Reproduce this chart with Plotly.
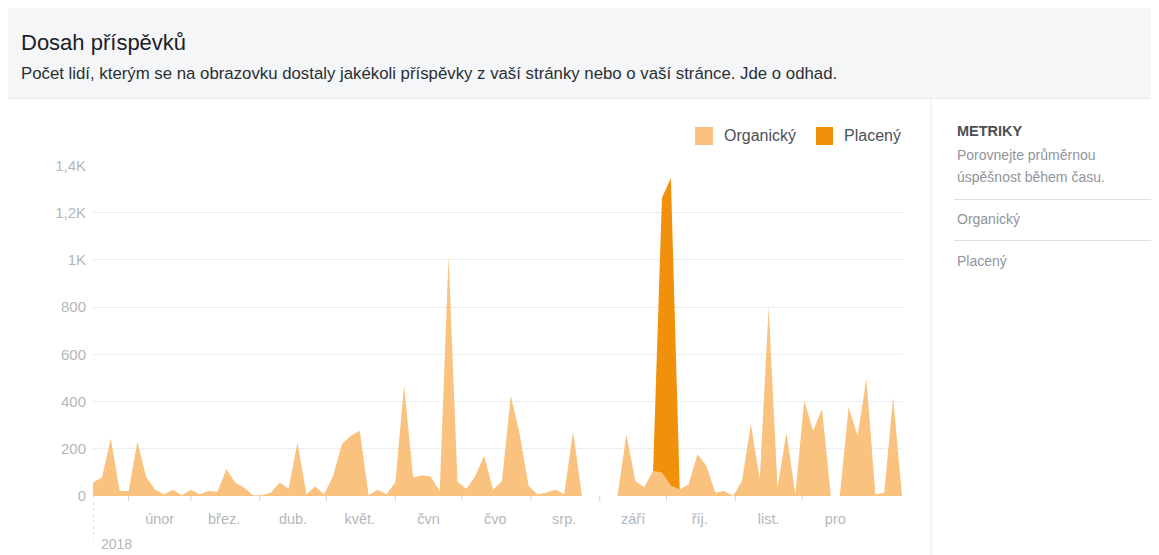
import pandas as pd
import plotly.graph_objects as go

# ---------------- data ----------------
start_date = "2018-01-16"
n_points = 92
dates = pd.date_range(start=start_date, periods=n_points, freq="4D")

organic = [57, 78, 244, 21, 21, 230, 78, 26, 7, 26,
           3, 26, 7, 21, 18, 113, 57, 35, 3, 3,
           14, 57, 31, 227, 7, 40, 7, 85, 220, 255,
           276, 3, 26, 7, 57, 468, 78, 88, 82, 21,
           1014, 60, 31, 85, 170, 26, 64, 425, 262, 42,
           7, 14, 28, 7, 274, 0, 0, 0, 0, 0,
           262, 64, 38, 106, 99, 42, 28, 50, 177, 128,
           14, 21, 0, 64, 305, 71, 801, 35, 269, 7,
           404, 276, 369, 0, 0, 376, 255, 496, 7, 14,
           418, 0]
paid = [0] * 63 + [0, 1163, 1305, 0] + [0] * 25

month_label_dates = ["2018-02-15", "2018-03-16", "2018-04-16", "2018-05-16",
                     "2018-06-16", "2018-07-16", "2018-08-16", "2018-09-16",
                     "2018-10-16", "2018-11-16", "2018-12-16"]
month_labels = ["únor", "břez.", "dub.", "květ.", "čvn", "čvo", "srp.",
                "září", "říj.", "list.", "pro"]
month_start_dates = ["2018-02-01", "2018-03-01", "2018-04-01", "2018-05-01",
                     "2018-06-01", "2018-07-01", "2018-08-01", "2018-09-01",
                     "2018-10-01", "2018-11-01", "2018-12-01"]
y_tick_vals = [0, 200, 400, 600, 800, 1000, 1200, 1400]
y_tick_text = ["0", "200", "400", "600", "800", "1K", "1,2K", "1,4K"]

series_names = ["Organický", "Placený"]
title_text = "Dosah příspěvků"
subtitle_text = ("Počet lidí, kterým se na obrazovku dostaly jakékoli příspěvky "
                 "z vaší stránky nebo o vaší stránce. Jde o odhad.")

# ---------------- style ----------------
C_ORG = "#f9c27f"
C_PAID = "#f1900b"
FONT = "Liberation Sans, Arial, Helvetica, sans-serif"
GRAY_TICK = "#b4b7bc"

PAGE_OFF = 8                      # default body margin of the html page
W_FIG, H_FIG = 1159 - PAGE_OFF, 555 - PAGE_OFF
# plot area in page pixel coordinates
L, R, T, B = 93, 902, 165, 496
PW, PH = R - L, B - T


def px(x):
    return (x - L) / PW


def py(y):
    return (B - y) / PH


fig = go.Figure()
fig.add_trace(go.Scatter(x=dates, y=organic, name=series_names[0],
                         stackgroup="one", mode="lines",
                         line=dict(width=0, color=C_ORG),
                         fillcolor=C_ORG, hoverinfo="x+y"))
fig.add_trace(go.Scatter(x=dates, y=paid, name=series_names[1],
                         stackgroup="one", mode="lines",
                         line=dict(width=0, color=C_PAID),
                         fillcolor=C_PAID, hoverinfo="x+y"))

shapes = []
annotations = []

# header band
shapes.append(dict(type="rect", xref="paper", yref="paper",
                   x0=px(0), x1=px(1160), y0=py(98), y1=py(8),
                   fillcolor="#f4f6f8", line=dict(width=0), layer="below"))
shapes.append(dict(type="line", xref="paper", yref="paper",
                   x0=px(0), x1=px(1160), y0=py(98.5), y1=py(98.5),
                   line=dict(color="#e6e8eb", width=1)))
annotations.append(dict(text=title_text, xref="paper", yref="paper",
                        x=px(19), y=py(42), xanchor="left", yanchor="middle",
                        showarrow=False, font=dict(family=FONT, size=22, color="#1d2129")))
annotations.append(dict(text=subtitle_text, xref="paper", yref="paper",
                        x=px(19), y=py(73), xanchor="left", yanchor="middle",
                        showarrow=False, font=dict(family=FONT, size=16.8, color="#2b2e33")))

# right panel
shapes.append(dict(type="line", xref="paper", yref="paper",
                   x0=px(931), x1=px(931), y0=py(99), y1=py(556),
                   line=dict(color="#e9ebee", width=1)))
annotations.append(dict(text="<b>METRIKY</b>", xref="paper", yref="paper",
                        x=px(955), y=py(131), xanchor="left", yanchor="middle",
                        showarrow=False, font=dict(family=FONT, size=14.5, color="#4b4f56")))
for txt, yy in [("Porovnejte průměrnou", 155), ("úspěšnost během času.", 177),
                (series_names[0], 219), (series_names[1], 261)]:
    annotations.append(dict(text=txt, xref="paper", yref="paper",
                            x=px(955), y=py(yy), xanchor="left", yanchor="middle",
                            showarrow=False, font=dict(family=FONT, size=14, color="#90949c")))
for yy in [199.5, 240.5]:
    shapes.append(dict(type="line", xref="paper", yref="paper",
                       x0=px(954), x1=px(1151), y0=py(yy), y1=py(yy),
                       line=dict(color="#dddfe2", width=1)))

# legend (manual)
for (x0, x1, col, tx, name) in [(695, 713, C_ORG, 722, series_names[0]),
                                (816, 833, C_PAID, 842, series_names[1])]:
    shapes.append(dict(type="rect", xref="paper", yref="paper",
                       x0=px(x0), x1=px(x1), y0=py(145), y1=py(127),
                       fillcolor=col, line=dict(width=0)))
    annotations.append(dict(text=name, xref="paper", yref="paper",
                            x=px(tx), y=py(136), xanchor="left", yanchor="middle",
                            showarrow=False, font=dict(family=FONT, size=16, color="#4b4f56")))

# month start ticks
for d in month_start_dates:
    shapes.append(dict(type="line", xref="x", yref="paper", x0=d, x1=d,
                       y0=0, y1=py(501), line=dict(color="#d0d2d6", width=1)))
# start dotted line
shapes.append(dict(type="line", xref="x", yref="paper", x0=dates[0], x1=dates[0],
                   y0=0, y1=py(540), line=dict(color="#c4c6ca", width=1, dash="dot")))
annotations.append(dict(text="2018", xref="paper", yref="paper",
                        x=px(99), y=py(544), xanchor="left", yanchor="middle",
                        showarrow=False, font=dict(family=FONT, size=14, color=GRAY_TICK)))

fig.update_layout(
    width=W_FIG, height=H_FIG,
    margin=dict(l=L - PAGE_OFF, r=1159 - R, t=T - PAGE_OFF, b=555 - B, pad=0),
    paper_bgcolor="white", plot_bgcolor="white",
    showlegend=False,
    shapes=shapes, annotations=annotations,
    font=dict(family=FONT),
    xaxis=dict(type="date", range=[dates[0], dates[-1]],
               tickmode="array", tickvals=month_label_dates, ticktext=month_labels,
               ticks="", showgrid=False, zeroline=False, showline=False,
               tickfont=dict(size=14.5, color=GRAY_TICK), ticklabelstandoff=12),
    yaxis=dict(range=[0, 1402], tickmode="array", tickvals=y_tick_vals,
               ticktext=y_tick_text, showgrid=True, gridcolor="#eceef1", gridwidth=1,
               zeroline=False, showline=False, ticks="",
               tickfont=dict(size=15, color=GRAY_TICK), ticklabelstandoff=6),
)

fig.write_html("out.html")
